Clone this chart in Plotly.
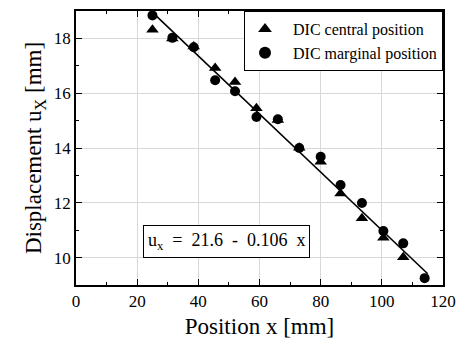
import plotly.graph_objects as go

x_pos = [25, 31.5, 38.5, 45.5, 52, 59, 66, 73, 80, 86.5, 93.5, 100.5, 107, 114]
u_central = [18.32, 18.0, 17.7, 16.92, 16.41, 15.45, 15.02, 14.01, 13.5, 12.34, 11.44, 10.72, 10.01, None]
u_marginal = [18.84, 18.02, 17.68, 16.47, 16.07, 15.13, 15.05, 14.0, 13.68, 12.65, 11.99, 10.97, 10.52, 9.25]
fit_a = 21.6
fit_b = -0.106
fit_x = [25, 115]
fit_y = [fit_a + fit_b * v for v in fit_x]

font = "Liberation Serif, Times New Roman, serif"
pad = "\u00a0\u00a0"

fig = go.Figure()
fig.add_trace(go.Scatter(x=fit_x, y=fit_y, mode="lines", line=dict(color="black", width=1.6),
                         showlegend=False, hoverinfo="skip"))
fig.add_trace(go.Scatter(x=x_pos, y=u_central, mode="markers", name=pad + "DIC central position",
                         marker=dict(symbol="triangle-up", size=11, color="black")))
fig.add_trace(go.Scatter(x=x_pos, y=u_marginal, mode="markers", name=pad + "DIC marginal position",
                         marker=dict(symbol="circle", size=10, color="black")))

axis_common = dict(
    showline=True, linecolor="black", linewidth=1.5, mirror="ticks",
    ticks="inside", ticklen=6, tickwidth=1.2, tickcolor="black",
    showgrid=True, gridcolor="#d8d8d8", gridwidth=1, zeroline=False,
    tickfont=dict(family=font, size=17, color="black"),
)

fig.update_xaxes(range=[0, 120], dtick=20, tick0=0,
                 minor=dict(ticks="inside", ticklen=3, dtick=10, tickcolor="black", showgrid=False),
                 title=dict(text="Position x [mm]", font=dict(family=font, size=23, color="black"), standoff=8),
                 **axis_common)
fig.update_yaxes(range=[9, 19], dtick=2, tick0=10,
                 minor=dict(ticks="inside", ticklen=3, dtick=1, tickcolor="black", showgrid=False),
                 title=dict(text="Displacement u<sub>X</sub> [mm]", font=dict(family=font, size=23, color="black"), standoff=6),
                 **axis_common)

fig.add_annotation(x=49.2, y=10.58, xref="x", yref="y", showarrow=False,
                   text="u<sub>x</sub>&nbsp; = &nbsp;21.6 &nbsp;- &nbsp;0.106 &nbsp;x",
                   font=dict(family=font, size=18, color="black"),
                   bordercolor="black", borderwidth=1, borderpad=4, bgcolor="white")

fig.update_layout(
    width=465, height=345,
    margin=dict(l=76, r=14, t=9, b=60),
    paper_bgcolor="white", plot_bgcolor="white",
    legend=dict(x=1, y=1, xanchor="right", yanchor="top",
                bordercolor="black", borderwidth=1, bgcolor="white",
                font=dict(family=font, size=16, color="black"),
                itemsizing="constant", tracegroupgap=0),
)

fig.write_html("out.html")
